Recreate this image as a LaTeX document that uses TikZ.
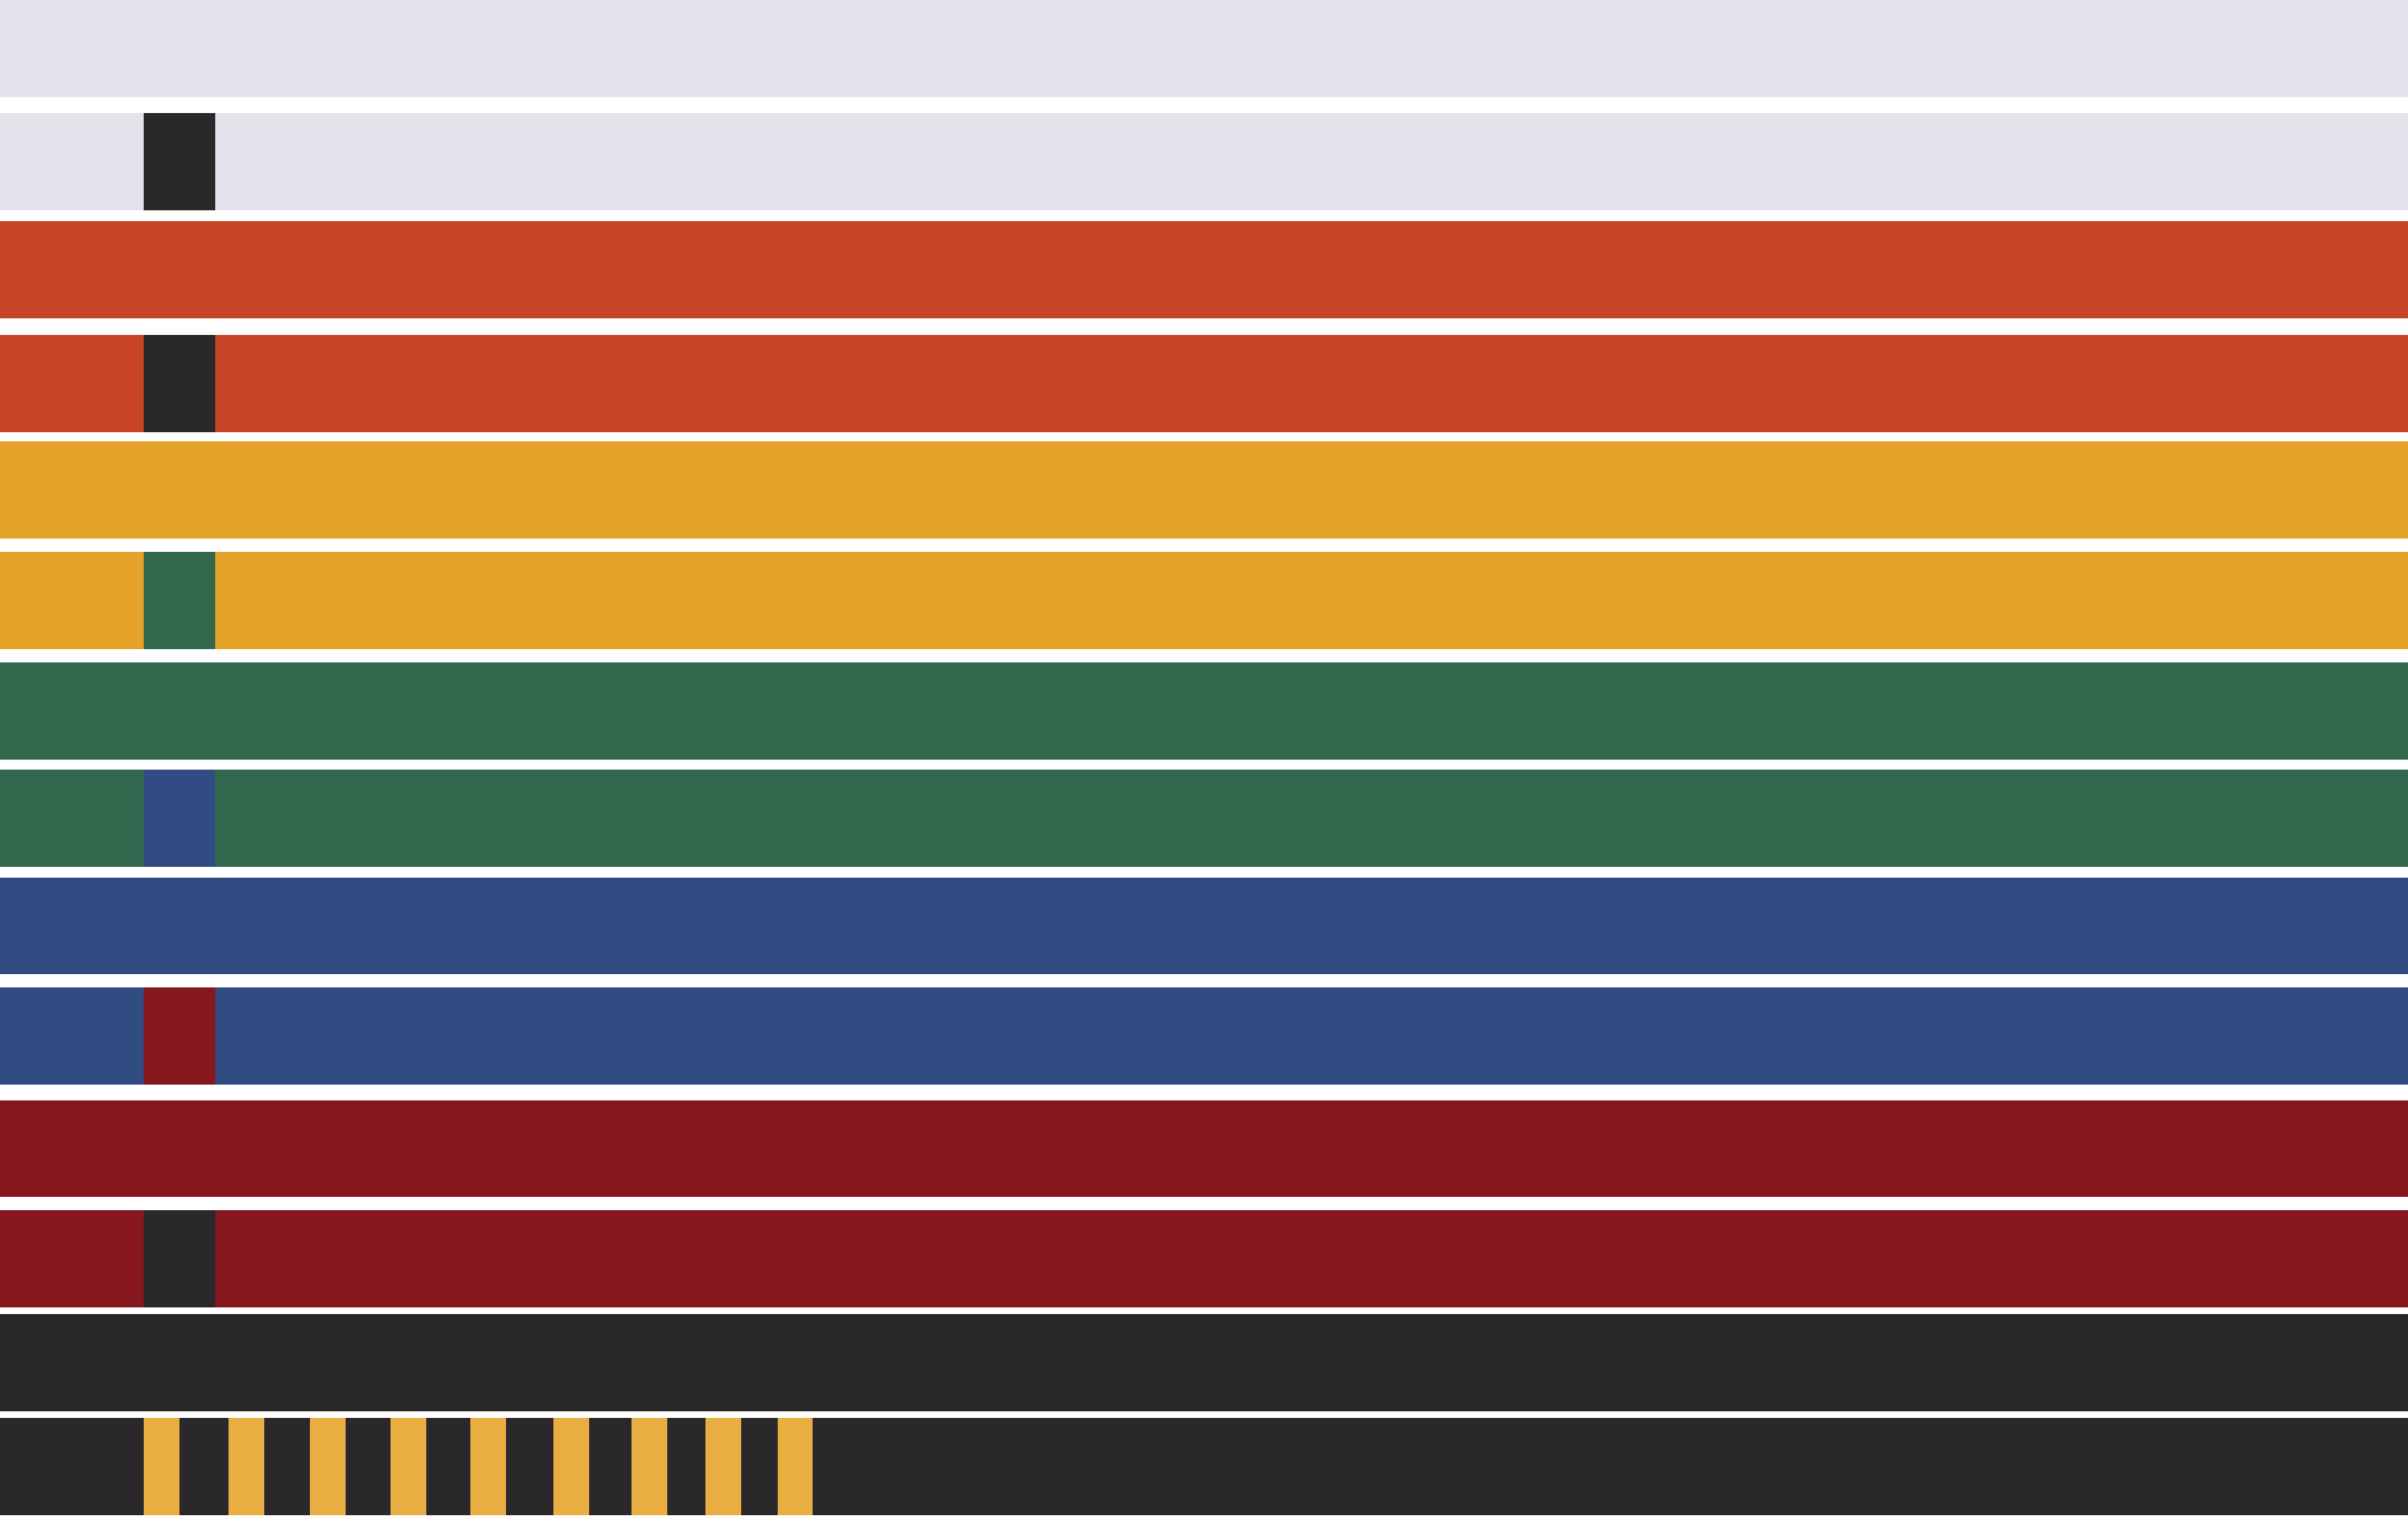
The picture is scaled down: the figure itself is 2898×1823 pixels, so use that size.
\documentclass[tikz,border=0pt]{standalone}
\definecolor{cgrey}{HTML}{E4E2EA}
\definecolor{corange}{HTML}{C84527}
\definecolor{cyellow}{HTML}{E5A429}
\definecolor{cgreen}{HTML}{33684E}
\definecolor{cblue}{HTML}{314C83}
\definecolor{cdred}{HTML}{85171D}
\definecolor{cblack}{HTML}{2A282B}
\definecolor{cbar}{HTML}{E8AE42}
\begin{document}
\begin{tikzpicture}[x=1pt,y=-1pt]
\tikzset{belt/.style={fill=#1,draw=none}}
\fill[white] (0,0) rectangle (2898,1823);
\useasboundingbox (0,0) rectangle (2898,1823);
% stripes: top, bottom, colour, tip colour
\foreach \t/\b/\c/\k in {
  0/116.6/cgrey/none,
  136.4/253.1/cgrey/cblack,
  266.1/382.8/corange/none,
  402.9/519.6/corange/cblack,
  531.4/647.8/cyellow/none,
  664.1/780.7/cyellow/cgreen,
  797.3/914.4/cgreen/none,
  925.8/1042.5/cgreen/cblue,
  1055.5/1172.2/cblue/none,
  1188.4/1305.3/cblue/cdred,
  1323.6/1440.4/cdred/none,
  1456.3/1573.1/cdred/cblack,
  1581.4/1697.8/cblack/none,
  1706.2/1823/cblack/none}{
  \path[belt=\c] (0,\t) rectangle (2898,\b);
  \ifx\k\relax\else\fi
}
\foreach \t/\b/\k in {136.4/253.1/cblack,402.9/519.6/cblack,664.1/780.7/cgreen,925.8/1042.5/cblue,1188.4/1305.3/cdred,1456.3/1573.1/cblack}{
  \path[belt=\k] (173,\t) rectangle (259,\b);
}
\foreach \l/\r in {173/215.8,275.1/317.9,373.3/416,469.8/513.1,565.8/609.1,666.2/709,760/803.3,849.4/892.2,935.5/978.3}{
  \path[belt=cbar] (\l,1706.2) rectangle (\r,1823);
}
\end{tikzpicture}
\end{document}
